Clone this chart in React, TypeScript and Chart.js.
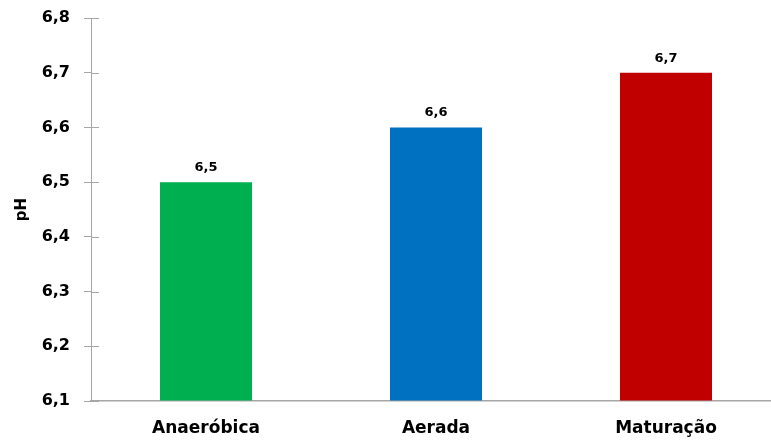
import React, { useEffect, useRef } from "react";
import { Chart, registerables } from "chart.js";

Chart.register(...registerables);

const categories = ["Anaeróbica", "Aerada", "Maturação"];
const phValues = [6.5, 6.6, 6.7];
const barColors = ["#00B050", "#0070C0", "#C00000"];
const yMin = 6.1;
const yMax = 6.8;
const yStep = 0.1;

const FONT = "'DejaVu Sans', Verdana, sans-serif";
const AXIS_COLOR = "#a6a6a6";

const fmt = (v: number) => v.toFixed(1).replace(".", ",");

// Draws the inner half of the y tick marks (they cross the axis) and the value labels above bars
const overlayPlugin = {
  id: "overlay",
  afterDatasetsDraw(chart: any) {
    const { ctx } = chart;
    const y = chart.scales.y;
    ctx.save();
    ctx.strokeStyle = AXIS_COLOR;
    ctx.lineWidth = 1;
    y.ticks.forEach((t: any) => {
      const py = Math.round(y.getPixelForValue(t.value)) + 0.5;
      ctx.beginPath();
      ctx.moveTo(y.right, py);
      ctx.lineTo(y.right + 8, py);
      ctx.stroke();
    });
    const meta = chart.getDatasetMeta(0);
    ctx.fillStyle = "#000";
    ctx.font = `bold 13px ${FONT}`;
    ctx.textAlign = "center";
    ctx.textBaseline = "bottom";
    meta.data.forEach((bar: any, i: number) => {
      ctx.fillText(fmt(phValues[i]), bar.x, bar.y - 8);
    });
    ctx.restore();
  },
};

export default function App() {
  const ref = useRef<HTMLCanvasElement>(null);
  useEffect(() => {
    if (!ref.current) return;
    const chart = new Chart(ref.current, {
      type: "bar",
      data: {
        labels: categories,
        datasets: [
          {
            data: phValues,
            backgroundColor: barColors,
            barPercentage: 0.4,
            categoryPercentage: 1,
            base: yMin,
          },
        ],
      },
      options: {
        animation: false,
        responsive: false,
        layout: { padding: { top: 18, left: 0, right: 0, bottom: 0 } },
        plugins: {
          legend: { display: false },
          tooltip: { enabled: false },
        },
        scales: {
          x: {
            grid: { display: false },
            border: { display: true, color: AXIS_COLOR, width: 1.5 },
            ticks: {
              color: "#000",
              font: { family: FONT, size: 17, weight: "bold" },
              padding: 9,
            },
            afterFit(scale: any) {
              scale.height = 40;
              scale.paddingLeft = 0;
              scale.paddingRight = 0;
            },
          },
          y: {
            min: yMin,
            max: yMax,
            grid: {
              display: true,
              drawOnChartArea: false,
              drawTicks: true,
              tickLength: 7,
              color: AXIS_COLOR,
            },
            border: { display: true, color: AXIS_COLOR, width: 1 },
            ticks: {
              stepSize: yStep,
              color: "#000",
              padding: 14,
              font: { family: FONT, size: 16, weight: "bold" },
              callback: (v: any) => fmt(Number(v)),
            },
            title: {
              display: true,
              text: "pH",
              color: "#000",
              font: { family: FONT, size: 15, weight: "bold" },
              padding: { top: 13, bottom: 0 },
            },
            afterFit(scale: any) {
              scale.width = 91;
              scale.paddingTop = 0;
              scale.paddingBottom = 0;
            },
          },
        },
      },
      plugins: [overlayPlugin],
    });
    return () => chart.destroy();
  }, []);

  return (
    <div
      style={{
        position: "fixed",
        left: 0,
        top: 0,
        width: 771,
        height: 441,
        overflow: "hidden",
        background: "#fff",
      }}
    >
      <canvas ref={ref} width={781} height={441} style={{ display: "block" }} />
    </div>
  );
}
